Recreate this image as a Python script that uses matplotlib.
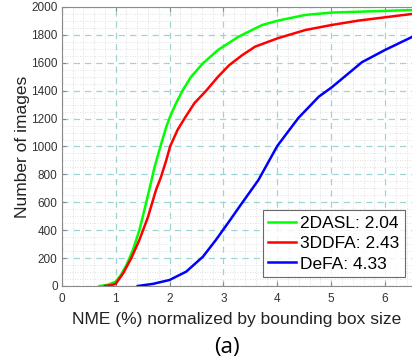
import numpy as np
import matplotlib.pyplot as plt
from matplotlib.ticker import MultipleLocator

# ###########################################################
# Data (cumulative error curves)
# ###########################################################

x_2dasl = [0.70, 0.85, 1.00, 1.10, 1.20, 1.32, 1.44, 1.53, 1.63, 1.72, 1.83,
           1.94, 2.01, 2.12, 2.24, 2.40, 2.62, 2.90, 3.28, 3.72, 4.01, 4.52,
           5.01, 6.00, 6.50]
y_2dasl = [0, 8, 31, 80, 150, 258, 400, 540, 700, 850, 1000,
           1142, 1214, 1310, 1400, 1500, 1596, 1692, 1787, 1871, 1902, 1943,
           1960, 1972, 1978]

x_3ddfa = [0.80, 0.92, 1.00, 1.14, 1.29, 1.44, 1.60, 1.75, 1.84, 1.94, 2.01,
           2.15, 2.28, 2.46, 2.68, 2.90, 3.11, 3.35, 3.59, 4.01, 4.52, 5.01,
           5.50, 6.00, 6.50]
y_3ddfa = [0, 6, 15, 92, 200, 330, 495, 690, 780, 903, 1000,
           1120, 1202, 1310, 1400, 1500, 1584, 1655, 1716, 1776, 1835, 1871,
           1902, 1926, 1950]

x_defa = [1.41, 1.69, 2.00, 2.31, 2.62, 2.86, 3.11, 3.30, 3.65, 4.00, 4.39,
          4.77, 5.01, 5.57, 6.00, 6.50]
y_defa = [0, 15, 43, 103, 210, 330, 465, 570, 760, 1004, 1204,
          1357, 1424, 1604, 1692, 1785]

labels = ["2DASL: 2.04", "3DDFA: 2.43", "DeFA: 4.33"]
colors = ["#00ff00", "#ff0000", "#0000ff"]

# ###########################################################
# Figure
# ###########################################################

plt.rcParams["font.family"] = ["Liberation Sans", "DejaVu Sans"]

fig = plt.figure(figsize=(4.12, 3.6), dpi=100)
ax = fig.add_axes([0.150, 0.2056, 0.850, 0.775])

for xs, ys, c, lab in zip([x_2dasl, x_3ddfa, x_defa],
                          [y_2dasl, y_3ddfa, y_defa], colors, labels):
    ax.plot(xs, ys, color=c, lw=1.8, label=lab, zorder=3)

ax.set_xlim(0, 6.5)
ax.set_ylim(0, 2000)
ax.xaxis.set_major_locator(MultipleLocator(1))
ax.yaxis.set_major_locator(MultipleLocator(200))
ax.xaxis.set_minor_locator(MultipleLocator(0.2))
ax.yaxis.set_minor_locator(MultipleLocator(50))

# grid: dashed major, dotted minor
ax.grid(which="major", color="#9fd4d4", ls=(0, (5, 4)), lw=0.9)
ax.grid(which="minor", color="#d6d6d6", ls=(0, (1, 2)), lw=0.6)
ax.set_axisbelow(True)

for s in ["left", "bottom", "top"]:
    ax.spines[s].set_color("#8a8a8a")
ax.spines["right"].set_visible(False)
ax.tick_params(which="both", direction="in", top=True, right=False,
               colors="#8a8a8a", labelcolor="#333333", labelsize=8.5)
ax.tick_params(which="major", length=3)
ax.tick_params(which="minor", length=0)
ax.tick_params(axis="x", pad=5)
ax.tick_params(axis="y", pad=3)

ax.set_xlabel("NME (%) normalized by bounding box size", fontsize=12.5,
              color="#222222", labelpad=5)
ax.set_ylabel("Number of images", fontsize=12.5, color="#222222",
              labelpad=1)

leg = ax.legend(loc="lower right", bbox_to_anchor=(0.98, 0.032),
                fontsize=12.5, frameon=True, fancybox=False,
                edgecolor="#444444", handlelength=1.6, handletextpad=0.25,
                borderpad=0.32, labelspacing=0.3, borderaxespad=0)
leg.get_frame().set_linewidth(0.8)

fig.text(0.551, 0.034, "(a)", ha="center", va="center", fontsize=16,
         family=["Open Sans", "DejaVu Sans"])

fig.savefig("out.png", dpi=100)
